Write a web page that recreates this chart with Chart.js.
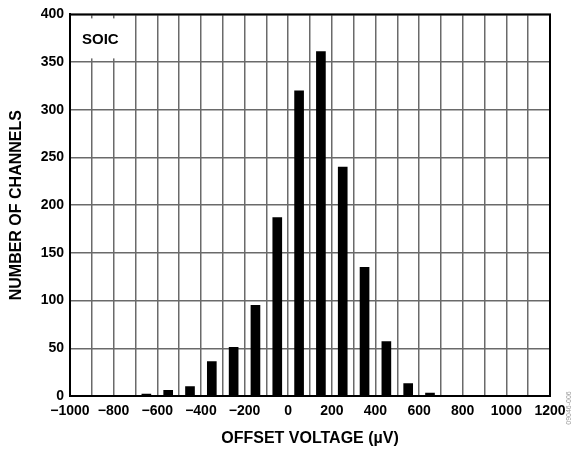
<!DOCTYPE html>
<html>
<head>
<meta charset="utf-8">
<script src="https://cdn.jsdelivr.net/npm/chart.js@4"></script>
<style>
  html, body { margin: 0; padding: 0; background: #fff; }
  #wrap { width: 577px; height: 451px; position: relative; }
</style>
</head>
<body>
<div id="wrap"><canvas id="chart"></canvas></div>
<script>
// histogram bins (µV) and channel counts
const binCenters = [-650, -550, -450, -350, -250, -150, -50, 50, 150, 250, 350, 450, 550, 650];
const counts = [2, 6, 10, 36, 51, 95, 187, 320, 361, 240, 135, 57, 13, 3];
const xTickLabels = [-1000, -800, -600, -400, -200, 0, 200, 400, 600, 800, 1000, 1200];
const yTickLabels = [0, 50, 100, 150, 200, 250, 300, 350, 400];

const FONT = 'Liberation Sans, Arial, sans-serif';

const points = binCenters.map((x, i) => ({ x: x, y: counts[i] }));

// frame round the plot, the SOIC tag and the little code on the right
const extras = {
  id: 'extras',
  afterDraw(chart) {
    const ctx = chart.ctx;
    const a = chart.chartArea;
    ctx.save();
    ctx.strokeStyle = '#000';
    ctx.lineWidth = 2;
    ctx.strokeRect(a.left, a.top, a.right - a.left, a.bottom - a.top);

    ctx.fillStyle = '#fff';
    ctx.fillRect(a.left + 6, a.top + 4, 56, 40);
    ctx.fillStyle = '#000';
    ctx.font = 'bold 15px ' + FONT;
    ctx.textBaseline = 'middle';
    ctx.fillText('SOIC', a.left + 12, a.top + 25);

    ctx.translate(569, 408);
    ctx.rotate(-Math.PI / 2);
    ctx.fillStyle = '#999';
    ctx.font = '7px ' + FONT;
    ctx.textAlign = 'center';
    ctx.fillText('09046-006', 0, 0);
    ctx.restore();
  }
};

new Chart(document.getElementById('chart'), {
  type: 'bar',
  data: {
    datasets: [{
      data: points,
      backgroundColor: '#000',
      borderWidth: 0,
      barThickness: 9
    }]
  },
  options: {
    responsive: true,
    maintainAspectRatio: false,
    animation: false,
    layout: { padding: { top: 13, right: 27, left: 0, bottom: 0 } },
    plugins: { legend: { display: false }, tooltip: { enabled: false } },
    scales: {
      x: {
        type: 'linear',
        min: -1000,
        max: 1200,
        offset: false,
        afterFit(scale) { scale.height = 55; },
        afterBuildTicks(scale) {
          const t = [];
          for (let v = -1000; v <= 1200; v += 100) t.push({ value: v });
          scale.ticks = t;
        },
        grid: { color: '#6a6a6a', lineWidth: 1.5, drawTicks: false, offset: false },
        border: { color: '#000', width: 2 },
        ticks: {
          autoSkip: false,
          maxRotation: 0,
          padding: 7,
          color: '#000',
          font: { family: FONT, size: 14, weight: 'bold' },
          callback(v) {
            if (!xTickLabels.includes(v)) return '';
            return v < 0 ? '\u2212' + Math.abs(v) : String(v);
          }
        },
        title: {
          display: true,
          text: 'OFFSET VOLTAGE (\u00b5V)',
          color: '#000',
          padding: { top: 4, bottom: 3 },
          font: { family: FONT, size: 16, weight: 'bold' }
        }
      },
      y: {
        min: 0,
        max: 400,
        afterFit(scale) { scale.width = 70; },
        afterBuildTicks(scale) {
          scale.ticks = yTickLabels.map(v => ({ value: v }));
        },
        grid: { color: '#6a6a6a', lineWidth: 1.5, drawTicks: false },
        border: { color: '#000', width: 2 },
        ticks: {
          padding: 6,
          color: '#000',
          font: { family: FONT, size: 14, weight: 'bold' }
        },
        title: {
          display: true,
          text: 'NUMBER OF CHANNELS',
          color: '#000',
          padding: { top: 7, bottom: 0 },
          font: { family: FONT, size: 16, weight: 'bold' }
        }
      }
    }
  },
  plugins: [extras]
});
</script>
</body>
</html>
